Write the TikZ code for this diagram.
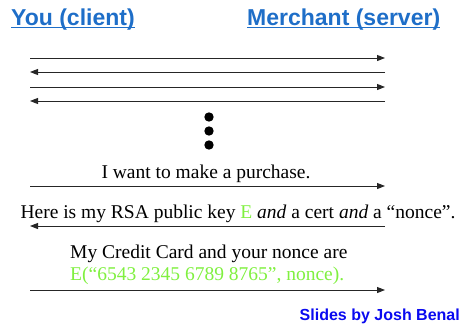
\documentclass[tikz,border=0pt]{standalone}
\usepackage{fontspec}
\setmainfont{Liberation Serif}
\newfontfamily\arial{Liberation Sans}
\usepackage{tikz}
\usetikzlibrary{positioning,arrows.meta}

\definecolor{titleblue}{RGB}{30,110,200}
\definecolor{creditblue}{RGB}{10,10,240}
\definecolor{keygreen}{RGB}{128,240,64}

\begin{document}
\begin{tikzpicture}[
    x=1pt, y=-1pt,
    title/.style={inner sep=0pt, anchor=base west, text=titleblue, font=\arial\fontsize{23}{27}\selectfont\bfseries},
    say/.style={inner sep=0pt, anchor=base, font=\fontsize{19.5}{22}\selectfont},
    msg/.style={draw=black!85, line width=1pt, -{Triangle[length=8pt, width=6pt]}},
    dot/.style={fill=black},
]
    \useasboundingbox (0,0) rectangle (461,327);

    \node[title] (client) at (11,25) {You (client)};
    \node[title] (merchant) at (247,25) {Merchant (server)};
    \draw[titleblue, line width=1.3pt] ([yshift=-2.5pt]client.base west) -- ([yshift=-2.5pt]client.base east);
    \draw[titleblue, line width=1.3pt] ([yshift=-2.5pt]merchant.base west) -- ([yshift=-2.5pt]merchant.base east);

    \foreach \i/\y in {1/58, 2/72, 3/87, 4/101, 5/186, 6/226, 7/290} {
        \coordinate (l\i) at (30,\y);
        \coordinate (r\i) at (385,\y);
    }
    \draw[msg] (l1) -- (r1);
    \draw[msg] (r2) -- (l2);
    \draw[msg] (l3) -- (r3);
    \draw[msg] (r4) -- (l4);

    \fill[dot] (209,117) circle (4.7);
    \fill[dot] (209,131) circle (4.7);
    \fill[dot] (209,145) circle (4.7);

    \node[say] (purchase) at (206,178) {I want to make a purchase.};
    \draw[msg] (l5) -- (r5);

    \node[say] (pubkey) at (238,218) {Here is my RSA public key \textcolor{keygreen}{E} \textit{and} a cert \textit{and} a “nonce”.};
    \draw[msg] (r6) -- (l6);

    % base of a two-line node sits on its last line
    \node[say, anchor=base west, align=left] (card) at (70,280) {My Credit Card and your nonce are\\\textcolor{keygreen}{E(“6543 2345 6789 8765”, nonce).}};
    \draw[msg] (l7) -- (r7);

    \node[inner sep=0pt, anchor=base east, text=creditblue, font=\arial\fontsize{16}{19}\selectfont\bfseries] (credit) at (460,320) {Slides by Josh Benal};
\end{tikzpicture}
\end{document}
